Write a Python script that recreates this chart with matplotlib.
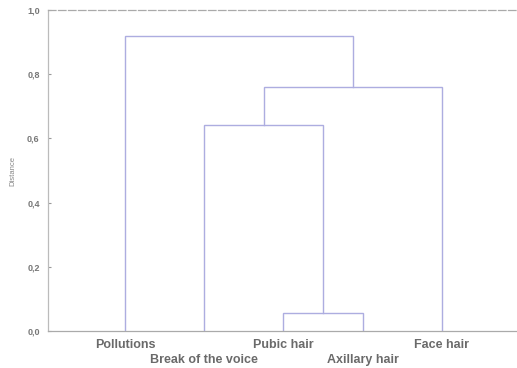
import matplotlib
matplotlib.use("Agg")
from matplotlib import pyplot as plt
from matplotlib.ticker import FuncFormatter

# leaves in display order, and the agglomeration steps (ids >= 5 are clusters)
leaf_names = ["Pollutions", "Break of the voice", "Pubic hair", "Axillary hair", "Face hair"]
merge_pairs = [(2, 3), (1, 5), (6, 4), (0, 7)]
merge_heights = [0.056, 0.642, 0.760, 0.919]
y_ticks = [0.0, 0.2, 0.4, 0.6, 0.8, 1.0]

LINE_COLOR = "#adade0"
TEXT_COLOR = "#6a6a6a"
plt.rcParams["font.family"] = ["Liberation Sans", "DejaVu Sans"]

fig = plt.figure(figsize=(5.17, 3.68), dpi=100)
ax = fig.add_axes([0.093, 0.1005, 0.907, 0.872])

# x position / height of every node, leaves first
node_x = [i + 1 for i in range(len(leaf_names))]
node_h = [0.0] * len(leaf_names)
for (a, b), h in zip(merge_pairs, merge_heights):
    ax.plot([node_x[a], node_x[a], node_x[b], node_x[b]],
            [node_h[a], h, h, node_h[b]],
            color=LINE_COLOR, linewidth=1.0, solid_joinstyle="miter")
    node_x.append((node_x[a] + node_x[b]) / 2)
    node_h.append(h)

# labels alternate between two rows below the axis
for i, name in enumerate(leaf_names):
    offset = -10 if i % 2 == 0 else -21
    ax.annotate(name, (node_x[i], 0), xycoords=("data", "axes fraction"),
                xytext=(0, offset), textcoords="offset points",
                ha="center", va="center", fontsize=9, fontweight="bold",
                color=TEXT_COLOR, annotation_clip=False)

ax.set_xlim(0.03, 5.95)
ax.set_ylim(0, 1)
ax.set_xticks([])
ax.set_yticks(y_ticks)
ax.yaxis.set_major_formatter(FuncFormatter(lambda v, p: f"{v:.1f}".replace(".", ",")))
ax.tick_params(axis="y", direction="in", length=2, width=0.8, color="#999999",
               labelsize=6.5, labelcolor="#777777", pad=6)
for lbl in ax.get_yticklabels():
    lbl.set_fontweight("bold")
ax.set_ylabel("Distance", fontsize=5.5, color="#888888", labelpad=8)

ax.spines["right"].set_visible(False)
ax.spines["left"].set_color("#bbbbbb")
ax.spines["bottom"].set_color("#aaaaaa")
ax.spines["top"].set_color("#aaaaaa")
ax.spines["top"].set_linestyle((0, (6, 2)))
for s in ("left", "bottom", "top"):
    ax.spines[s].set_linewidth(0.9)

fig.savefig("out.png", dpi=100)
